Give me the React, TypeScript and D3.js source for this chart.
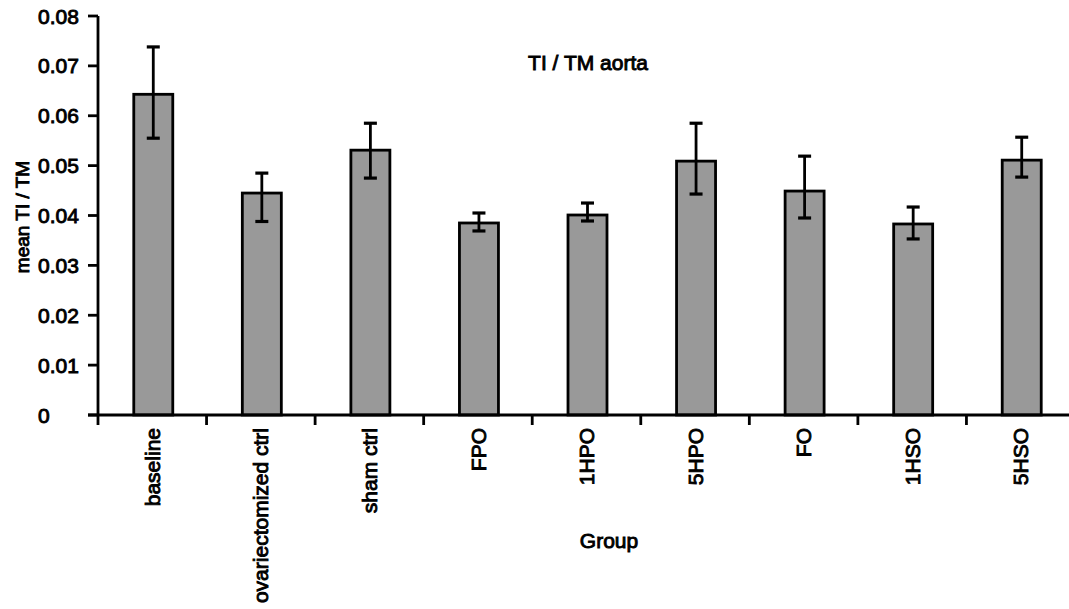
import React from "react";
import * as d3 from "d3";

const categories = ["baseline", "ovariectomized ctrl", "sham ctrl", "FPO", "1HPO", "5HPO", "FO", "1HSO", "5HSO"];
const means = [0.0643, 0.0445, 0.0531, 0.0385, 0.0401, 0.0509, 0.0449, 0.0383, 0.0511];
const errLow = [0.0555, 0.0388, 0.0475, 0.0369, 0.0389, 0.0443, 0.0395, 0.0353, 0.0477];
const errHigh = [0.0738, 0.0485, 0.0585, 0.0405, 0.0425, 0.0585, 0.0519, 0.0417, 0.0557];
const yTicks = [0, 0.01, 0.02, 0.03, 0.04, 0.05, 0.06, 0.07, 0.08];
const yTickLabels = ["0", "0.01", "0.02", "0.03", "0.04", "0.05", "0.06", "0.07", "0.08"];

const W = 1069;
const H = 609;
const FONT = "'Liberation Sans', Arial, Helvetica, sans-serif";

export default function App() {
  const x = d3.scaleBand<string>().domain(categories).range([98, 1075]).paddingInner(0).paddingOuter(0);
  const y = d3.scaleLinear().domain([0, 0.08]).range([415, 16]);
  const step = x.step();
  const barW = 39;
  const capW = 13;
  const txt = { fontFamily: FONT, fill: "#000", stroke: "#000", strokeWidth: 0.9 } as const;

  return (
    <svg width={W} height={H} style={{ position: "absolute", left: 0, top: 0, background: "#fff" }}>
      <rect x={0} y={0} width={W} height={H} fill="#fff" />
      {/* bars */}
      {categories.map((c, i) => {
        const cx = (x(c) as number) + step / 2 + 1;
        return (
          <g key={c}>
            <rect x={cx - barW / 2} y={y(means[i])} width={barW} height={y(0) - y(means[i])} fill="#999999" stroke="#000" strokeWidth={2.8} />
            <line x1={cx} x2={cx} y1={y(errHigh[i])} y2={y(errLow[i])} stroke="#000" strokeWidth={2.8} />
            <line x1={cx - capW / 2} x2={cx + capW / 2} y1={y(errHigh[i])} y2={y(errHigh[i])} stroke="#000" strokeWidth={3.2} />
            <line x1={cx - capW / 2} x2={cx + capW / 2} y1={y(errLow[i])} y2={y(errLow[i])} stroke="#000" strokeWidth={3.2} />
          </g>
        );
      })}
      {/* y axis */}
      <line x1={98} x2={98} y1={y(0.08)} y2={y(0)} stroke="#000" strokeWidth={2.8} />
      {yTicks.map((t, i) => (
        <g key={t}>
          <line x1={88} x2={98} y1={y(t)} y2={y(t)} stroke="#000" strokeWidth={2.8} />
          <text x={38} y={y(t)} dy="0.36em" fontSize={21} {...txt}>{yTickLabels[i]}</text>
        </g>
      ))}
      {/* x axis */}
      <line x1={88} x2={1080} y1={y(0)} y2={y(0)} stroke="#000" strokeWidth={2.8} />
      {categories.map((c) => (
        <line key={"t" + c} x1={x(c) as number} x2={x(c) as number} y1={y(0)} y2={y(0) + 10} stroke="#000" strokeWidth={2.8} />
      ))}
      {categories.map((c) => {
        const cx = (x(c) as number) + step / 2;
        return (
          <text key={"l" + c} transform={`translate(${cx},428) rotate(-90)`} dy="0.36em" textAnchor="end" fontSize={21} {...txt}>
            {c}
          </text>
        );
      })}
      {/* titles */}
      <text x={588} y={70} textAnchor="middle" fontSize={21} {...txt}>TI / TM aorta</text>
      <text x={609} y={548} textAnchor="middle" fontSize={21} {...txt}>Group</text>
      <text transform="translate(22,217) rotate(-90)" dy="0.36em" textAnchor="middle" fontSize={19} {...txt}>mean TI / TM</text>
    </svg>
  );
}
